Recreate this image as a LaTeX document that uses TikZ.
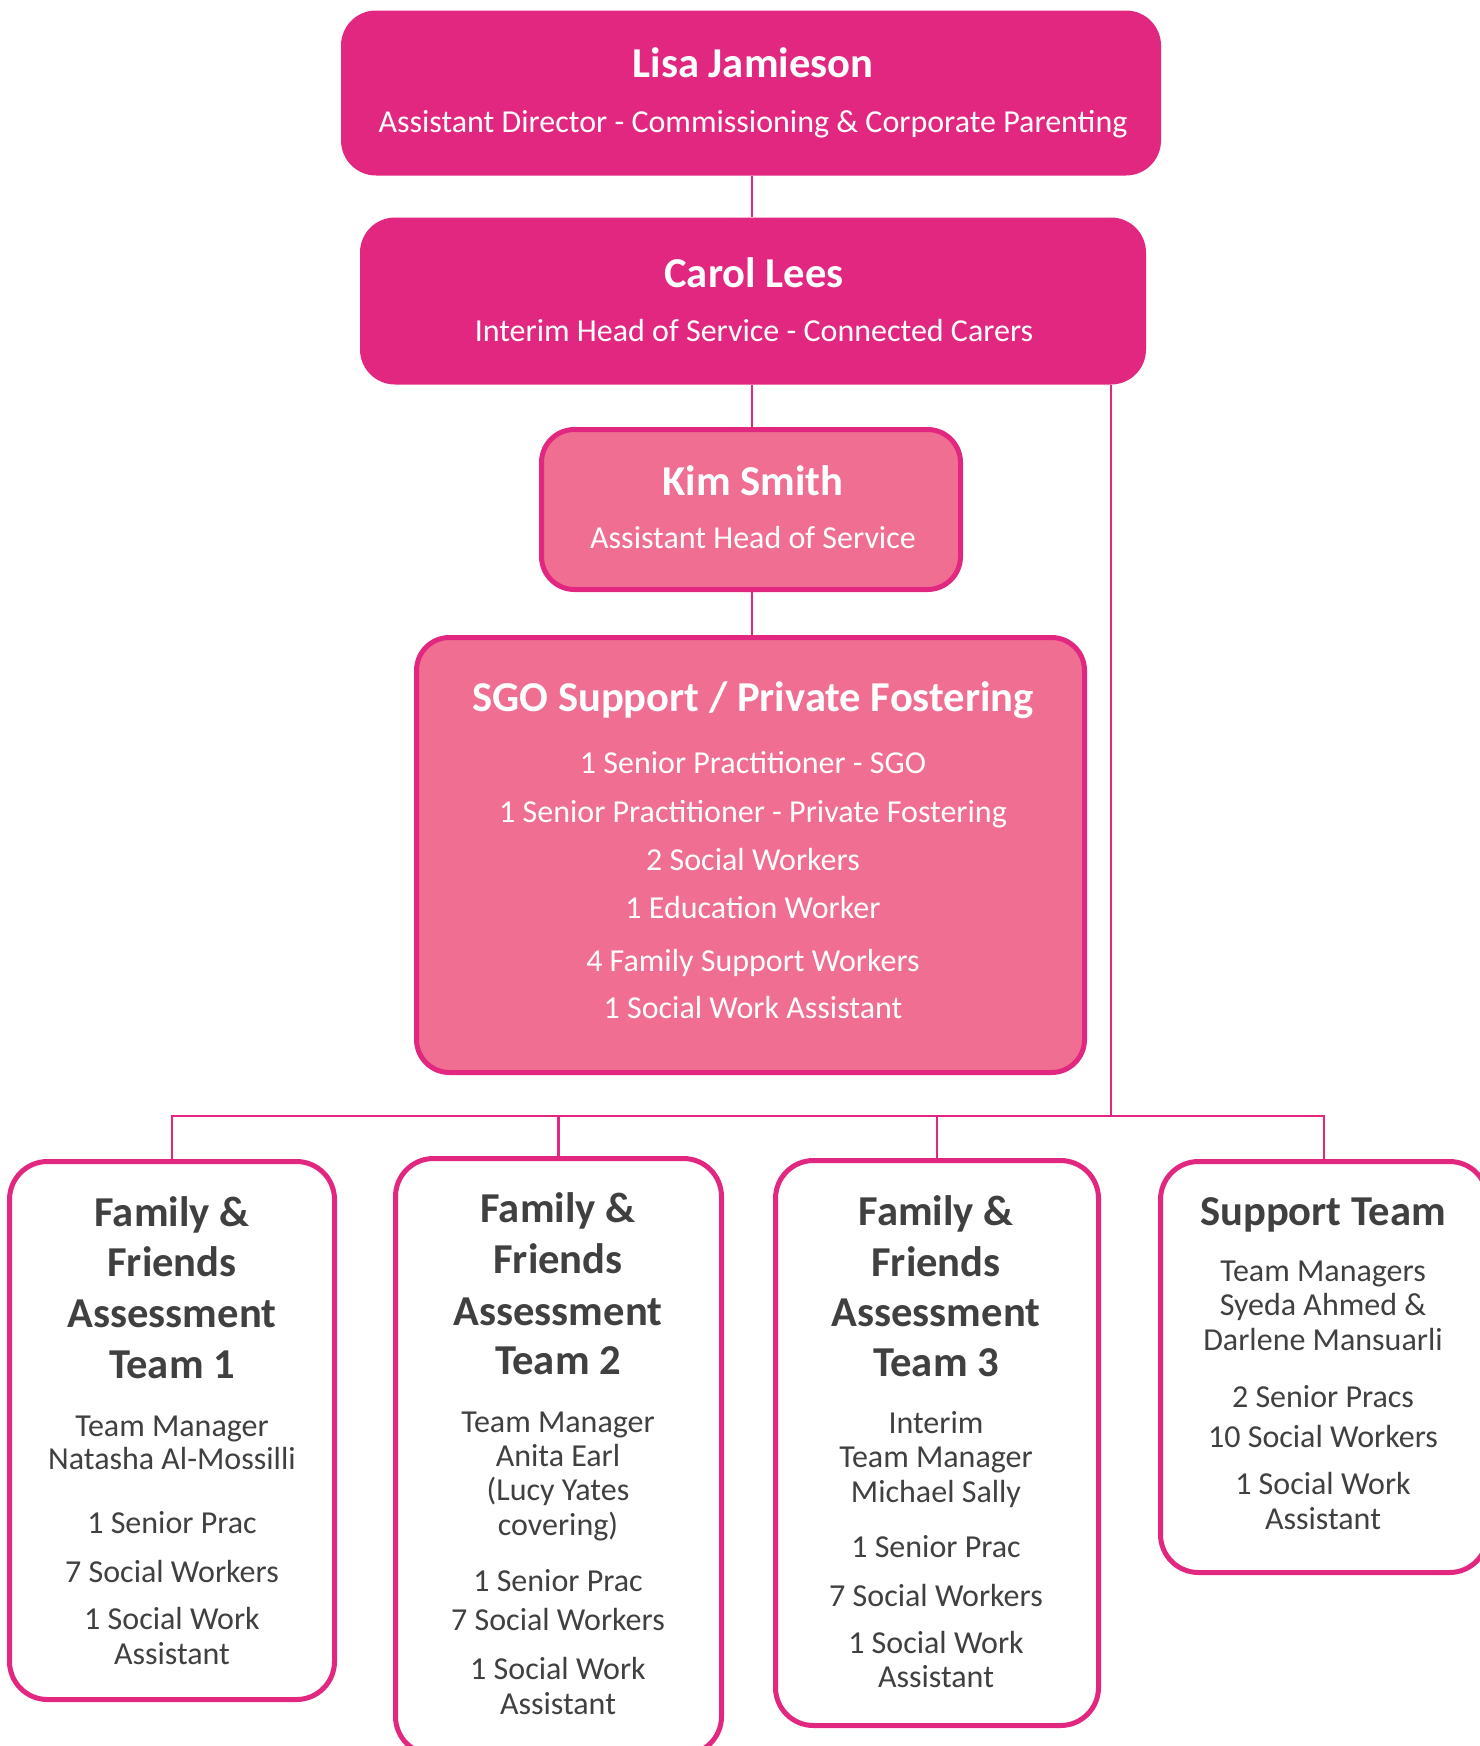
\documentclass[tikz,border=0pt]{standalone}
\usepackage{fontspec}
\setmainfont{Carlito}
\definecolor{mag}{HTML}{E1277F}
\definecolor{pinkfill}{HTML}{EF6E91}
\definecolor{txtgray}{HTML}{404040}
\tikzset{
  darkbox/.style={fill=mag, draw=none, rounded corners=35pt, inner sep=0pt},
  pinkbox/.style={fill=pinkfill, draw=mag, line width=5pt, rounded corners=33pt, inner sep=0pt},
  teambox/.style={fill=white, draw=mag, line width=5pt, rounded corners=38pt, inner sep=0pt},
  conn/.style={draw=mag, line width=2.5pt},
  ttl/.style={anchor=base, inner sep=0pt, font=\bfseries\fontsize{42.6}{50}\selectfont},
  bdy/.style={anchor=base, inner sep=0pt, font=\fontsize{32}{38}\selectfont},
}
\newcommand\putlines[4]{%
  \foreach \yy/\tx [count=\k] in {#4} {\node[#1] (#3\k) at (#2,\yy) {\tx};}}
\begin{document}
\begin{tikzpicture}[x=1pt,y=-1pt]
\useasboundingbox (0,0) rectangle (1480,1746);
% boxes
\node[darkbox, minimum width=820pt, minimum height=165pt] (lisa) at (751,93) {};
\node[darkbox, minimum width=786pt, minimum height=167pt] (carol) at (753,301) {};
\node[pinkbox, minimum width=419pt, minimum height=160pt] (kim) at (751,509.5) {};
\node[pinkbox, minimum width=668pt, minimum height=435pt] (sgo) at (750.5,855) {};
\node[teambox, minimum width=325pt, minimum height=538pt] (t1) at (172,1430.5) {};
\node[teambox, minimum width=326pt, minimum height=596pt] (t2) at (558.5,1456.5) {};
\node[teambox, minimum width=323pt, minimum height=565pt] (t3) at (937,1443) {};
\node[teambox, minimum width=327pt, minimum height=411pt] (t4) at (1324,1367) {};
% connectors
\coordinate (cx) at (752,0);
\coordinate (trunk) at (1111,1116);
\draw[conn] (lisa.south -| cx) -- (carol.north -| cx);
\draw[conn] (carol.south -| cx) -- (kim.north -| cx);
\draw[conn] (kim.south -| cx) -- (sgo.north -| cx);
\draw[conn] (carol.south -| trunk) -- (trunk);
\draw[conn] (t1.north) -- (t1.north |- trunk) -- (t4.north |- trunk) -- (t4.north);
\draw[conn] (t2.north) -- (t2.north |- trunk);
\draw[conn] (t3.north) -- (t3.north |- trunk);
% texts
\putlines{ttl, text=white}{753}{lisaA}{77/Lisa Jamieson}
\putlines{bdy, text=white}{753}{lisaB}{132/Assistant Director - Commissioning \& Corporate Parenting}
\putlines{ttl, text=white}{754}{carolA}{287/Carol Lees}
\putlines{bdy, text=white}{754}{carolB}{341/Interim Head of Service - Connected Carers}
\putlines{ttl, text=white}{753}{kimA}{495/Kim Smith}
\putlines{bdy, text=white}{753}{kimB}{548/Assistant Head of Service}
\putlines{ttl, text=white}{753}{sgoA}{711/{SGO Support / Private Fostering}}
\putlines{bdy, text=white}{753}{sgoB}{773/1 Senior Practitioner - SGO, 822/1 Senior Practitioner - Private Fostering, 870/2 Social Workers, 918/1 Education Worker, 971/4 Family Support Workers, 1018/1 Social Work Assistant}
\putlines{ttl, text=txtgray}{172}{tA}{1226/Family \&, 1276/Friends, 1327/Assessment, 1378/Team 1}
\putlines{bdy, text=txtgray}{172}{tB}{1436/Team Manager, 1469/Natasha Al-Mossilli, 1533/1 Senior Prac, 1582/7 Social Workers, 1629/1 Social Work, 1664/Assistant}
\putlines{ttl, text=txtgray}{558}{uA}{1222/Family \&, 1273/Friends, 1325/Assessment, 1374/Team 2}
\putlines{bdy, text=txtgray}{558}{uB}{1432/Team Manager, 1466/Anita Earl, 1500/(Lucy Yates, 1535/covering), 1591/1 Senior Prac, 1630/7 Social Workers, 1679/1 Social Work, 1714/Assistant}
\putlines{ttl, text=txtgray}{936}{vA}{1225/Family \&, 1276/Friends, 1326/Assessment, 1376/Team 3}
\putlines{bdy, text=txtgray}{936}{vB}{1433/Interim, 1467/Team Manager, 1502/Michael Sally, 1557/1 Senior Prac, 1606/7 Social Workers, 1653/1 Social Work, 1687/Assistant}
\putlines{ttl, text=txtgray}{1323}{wA}{1225/Support Team}
\putlines{bdy, text=txtgray}{1323}{wB}{1281/Team Managers, 1315/Syeda Ahmed \&, 1350/Darlene Mansuarli, 1407/2 Senior Pracs, 1447/10 Social Workers, 1494/1 Social Work, 1529/Assistant}
\end{tikzpicture}
\end{document}
